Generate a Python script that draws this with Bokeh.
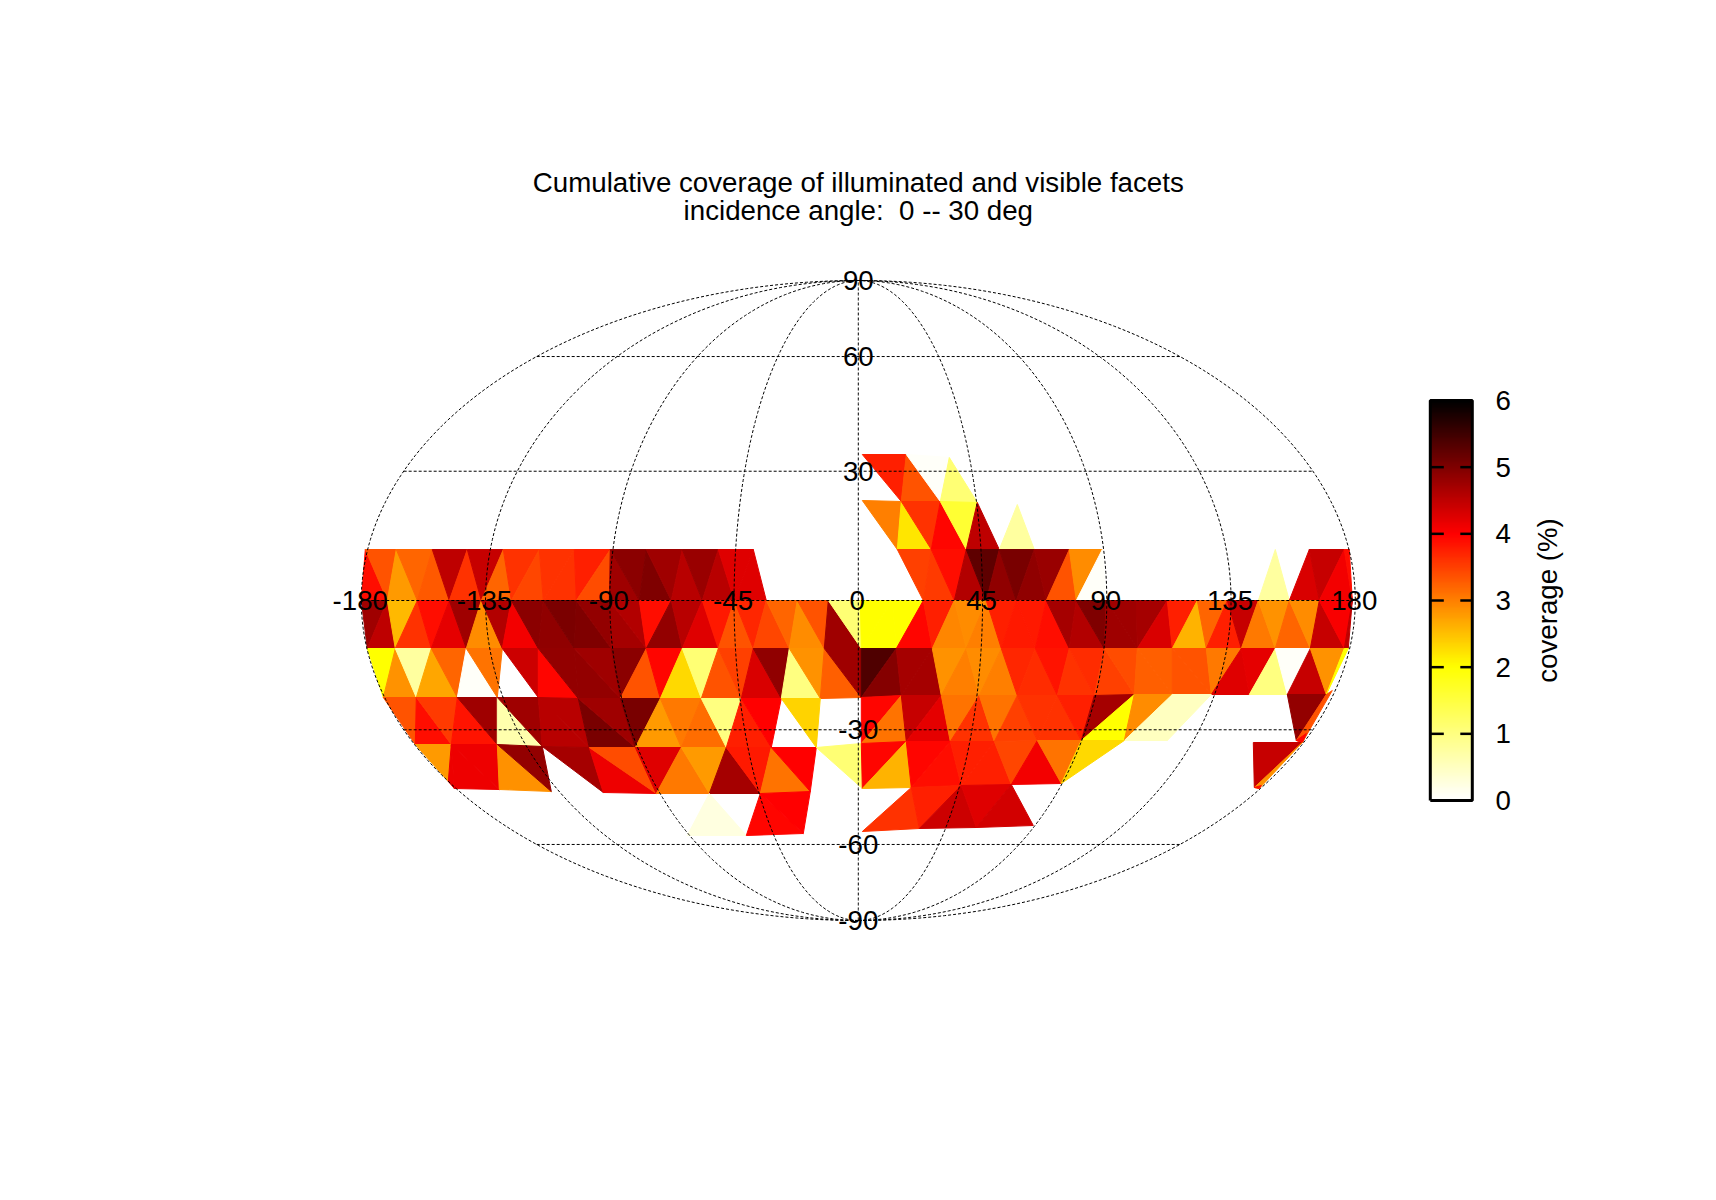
from bokeh.plotting import figure
from bokeh.models import Range1d, LinearColorMapper, ColumnDataSource
from bokeh.core.properties import value
from bokeh.embed import file_html
from bokeh.resources import INLINE
import numpy as np

# Mesh vertices on the projected map plane (semi-axes 497 x 320), one pair of lists per row
P_X = [4, 48, 91]
P_Y = [146, 146, 143]
Q_X = [4, 43, 82, 119, 159]
Q_Y = [100, 99, 99, 98, 96]
A_X = [-493, -462, -426, -391, -355, -319, -284, -248, -212, -176, -140, -105,
       39, 73, 108, 141, 176, 211, 244, 417, 451, 486, 491]
A_Y = [51] * 23
B_X = [-497, -471, -441, -409, -377, -347, -315, -282, -249, -219, -187, -156, -124, -92, -61, -30,
       2, 34, 65, 96, 128, 158, 188, 218, 248, 278, 309, 339, 369, 400, 431, 461, 494]
B_Y = [0] * 33
C_X = [-491, -463, -427, -392, -356, -320, -284, -247, -212, -176, -140, -105, -69, -34,
       3, 38, 74, 108, 143, 177, 211, 246, 279, 314, 348, 383, 417, 452, 486, 490]
C_Y = [-48] * 30
D_X = [-475, -442, -401, -361, -320, -280, -238, -198, -157, -117, -77, -38,
       3, 43, 83, 121, 159, 199, 236, 276, 314, 353, 391, 429, 468, 474]
D_Y = [-97, -97, -97, -97, -97, -98, -98, -98, -98, -98, -98, -98,
       -97, -95, -95, -95, -95, -95, -95, -94, -94, -94, -94, -94, -94, -90]
E_X = [-443, -407, -361, -316, -269, -223, -177, -132, -87, -42,
       3, 48, 92, 136, 179, 223, 266, 309, 395, 438, 444]
E_Y = [-144, -144, -144, -146, -147, -147, -147, -147, -147, -147,
       -143, -141, -141, -141, -140, -140, -140, -140, -142, -140, -142]
F_X = [-404, -359, -307, -255, -202, -149, -98, -48, 4, 53, 103, 153, 203, 396, 401]
F_Y = [-188, -189, -191, -192, -193, -193, -193, -191, -188, -187, -185, -184, -183, -187, -188]
G_X = [-171, -112, -55, 4, 61, 118, 175]
G_Y = [-235, -235, -233, -231, -228, -227, -225]
H_X = [-410, 448, 403]
H_Y = [-181, -133, -185]

# Facets: three vertices and the coverage (%)
FACETS = [
    ("P0 P1 Q1", 3.75), ("P1 Q1 Q2", 3.35), ("P1 P2 Q2", 0.05), ("P2 Q2 Q3", 1.1),
    ("Q0 Q1 A12", 3.0), ("Q1 A12 A13", 2.2), ("Q1 Q2 A13", 3.6), ("Q2 A13 A14", 3.95),
    ("Q2 Q3 A14", 1.6), ("Q3 A14 A15", 4.5), ("Q4 A15 A16", 0.75),
    ("A0 B0 B1", 3.9), ("A0 A1 B1", 3.35), ("A1 B1 B2", 2.8), ("A1 A2 B2", 3.2),
    ("A2 B2 B3", 3.3), ("A2 A3 B3", 4.5), ("A3 B3 B4", 3.6), ("A3 A4 B4", 4.45),
    ("A4 B4 B5", 3.2), ("A4 A5 B5", 3.6), ("A5 B5 B6", 3.45), ("A5 A6 B6", 3.6),
    ("A6 B6 B7", 3.6), ("A6 A7 B7", 3.75), ("A7 B7 B8", 3.4), ("A7 B8 B9", 4.75),
    ("A7 A8 B9", 4.9), ("A8 B9 B10", 5.0), ("A8 A9 B10", 4.75), ("A9 B10 B11", 4.55),
    ("A9 A10 B11", 4.8), ("A10 B11 B12", 4.55), ("A10 A11 B12", 4.25), ("A11 B12 B13", 4.25),
    ("A12 A13 B18", 3.5), ("A13 B18 B19", 3.55), ("A13 A14 B19", 3.9), ("A14 B19 B20", 4.6),
    ("A14 A15 B20", 5.25), ("A15 B20 B21", 4.87), ("A15 A16 B21", 5.05), ("A16 B21 B22", 4.87),
    ("A16 A17 B22", 4.8), ("A17 B22 B23", 3.35), ("A17 A18 B23", 2.9), ("A18 B23 B24", 0.05),
    ("A19 B29 B30", 0.75), ("A20 B30 B31", 4.3), ("A20 A21 B31", 4.45), ("A21 B31 B32", 4.1),
    ("A21 A22 B32", 3.9),
    ("B0 B1 C0", 4.75), ("B1 C0 C1", 4.5), ("B1 B2 C1", 2.55), ("B2 C1 C2", 3.6),
    ("B2 B3 C2", 3.9), ("B3 C2 C3", 4.2), ("B3 B4 C3", 4.75), ("B4 C3 C4", 2.9),
    ("B4 B5 C4", 4.6), ("B5 C4 C5", 4.1), ("B5 B6 C5", 4.9), ("B6 C5 C6", 4.87),
    ("B6 B7 C6", 5.03), ("B7 C6 C7", 5.0), ("B7 B8 C7", 4.85), ("B8 C7 C8", 4.7),
    ("B8 B9 C8", 4.6), ("B9 B10 C8", 3.9), ("B10 C8 C9", 4.85), ("B10 B11 C9", 4.55),
    ("B11 C9 C10", 4.25), ("B11 B12 C10", 3.8), ("B12 C10 C11", 3.35), ("B12 B13 C11", 3.7),
    ("B13 C11 C12", 3.45), ("B13 B14 C12", 3.2), ("B14 C12 C13", 2.9), ("B14 B15 C13", 3.35),
    ("B15 C13 C14", 4.75), ("B15 B16 C14", 1.1), ("B16 B17 C14", 2.0), ("B17 C14 C15", 2.0),
    ("B17 B18 C15", 2.0), ("B18 C15 C16", 3.95), ("B18 B19 C16", 3.75), ("B19 C16 C17", 2.95),
    ("B19 B20 C17", 2.9), ("B20 C17 C18", 3.0), ("B20 B21 C18", 3.75), ("B21 C18 C19", 3.8),
    ("B21 B22 C19", 3.8), ("B22 C19 C20", 3.9), ("B22 B23 C20", 4.7), ("B23 C20 C21", 4.6),
    ("B23 B24 C21", 5.0), ("B24 C21 C22", 4.75), ("B24 B25 C22", 4.75), ("B25 B26 C22", 4.7),
    ("B26 C22 C23", 4.3), ("B26 B27 C23", 3.75), ("B27 C23 C24", 2.6), ("B27 B28 C24", 3.2),
    ("B28 C24 C25", 3.75), ("B28 B29 C25", 4.45), ("B29 C25 C26", 3.05), ("B29 B30 C26", 2.85),
    ("B30 C26 C27", 3.2), ("B30 B31 C27", 2.9), ("B31 C27 C28", 4.45), ("B31 B32 C28", 4.05),
    ("B32 C28 C29", 4.5),
    ("C0 C1 D0", 2.0), ("C1 D0 D1", 2.85), ("C1 C2 D1", 0.75), ("C2 D1 D2", 2.7),
    ("C2 C3 D2", 3.2), ("C3 D2 D3", 0.05), ("C3 C4 D3", 3.1), ("C4 C5 D4", 4.4),
    ("C5 D4 D5", 3.95), ("C5 C6 D5", 4.85), ("C6 D5 D6", 4.85), ("C6 C7 D6", 4.75),
    ("C7 C8 D6", 4.9), ("C8 D6 D7", 3.35), ("C8 C9 D7", 3.95), ("C9 D7 D8", 2.3),
    ("C9 C10 D8", 1.1), ("C10 D8 D9", 3.35), ("C10 C11 D9", 3.5), ("C11 D9 D10", 4.3),
    ("C11 C12 D10", 4.87), ("C12 D10 D11", 1.0), ("C12 C13 D11", 2.85), ("C13 D11 D12", 3.25),
    ("C13 C14 D12", 4.75), ("C14 C15 D12", 5.37), ("C15 D12 D13", 4.95), ("C15 C16 D13", 4.7),
    ("C16 D13 D14", 4.7), ("C16 C17 D14", 2.85), ("C17 D14 D15", 3.0), ("C17 C18 D15", 2.9),
    ("C18 D15 D16", 3.0), ("C18 C19 D16", 3.7), ("C19 D16 D17", 3.65), ("C19 C20 D17", 3.85),
    ("C20 D17 D18", 3.6), ("C20 C21 D18", 3.65), ("C21 D18 D19", 3.5), ("C21 C22 D19", 3.4),
    ("C22 D19 D20", 3.25), ("C22 C23 D20", 3.25), ("C23 D20 D21", 3.35), ("C23 C24 D21", 3.35),
    ("C24 C25 D21", 3.05), ("C25 D21 D22", 4.25), ("C25 C26 D22", 4.2), ("C26 D22 D23", 1.0),
    ("C26 C27 D23", 0.05), ("C27 D23 D24", 4.45), ("C27 C28 D24", 2.85), ("C28 C29 D24", 2.0),
    ("D0 D1 E0", 3.35), ("D1 E0 E1", 3.9), ("D1 D2 E1", 3.55), ("D2 E1 E2", 3.85),
    ("D2 D3 E2", 4.75), ("D3 E2 E3", 0.65), ("D3 D4 E3", 4.75), ("D4 E3 E4", 4.55),
    ("D4 D5 E4", 4.55), ("D5 E4 E5", 5.05), ("D5 D6 E5", 4.75), ("D6 D7 E5", 5.05),
    ("D7 E5 E6", 2.8), ("D7 D8 E6", 3.05), ("D8 E6 E7", 3.15), ("D8 D9 E7", 1.0),
    ("D9 E7 E8", 3.75), ("D9 D10 E8", 4.0), ("D10 D11 E9", 2.35), ("D12 D13 E10", 3.95),
    ("D13 E10 E11", 3.1), ("D13 D14 E11", 4.45), ("D14 E11 E12", 4.2), ("D14 D15 E12", 3.1),
    ("D15 E12 E13", 3.6), ("D15 D16 E13", 3.1), ("D16 E13 E14", 3.5), ("D16 D17 E14", 3.6),
    ("D17 E14 E15", 3.6), ("D17 D18 E15", 3.75), ("D18 D19 E15", 4.7), ("D19 E15 E16", 2.0),
    ("D19 D20 E16", 2.9), ("D20 E16 E17", 0.5), ("D20 D21 E17", 0.5), ("D23 D24 E19", 4.85),
    ("D24 D25 E20", 3.35), ("D24 E19 E20", 3.35), ("E19 E20 H1", 3.95),
    ("E0 E1 H0", 2.8), ("E1 H0 F0", 4.13), ("E1 E2 F1", 4.13), ("E1 F0 F1", 4.13),
    ("E2 F1 F2", 2.87), ("E2 E3 F2", 4.85), ("E3 E4 F3", 4.7), ("E4 F3 F4", 4.13),
    ("E4 E5 F4", 3.4), ("E5 E6 F4", 4.25), ("E6 F4 F5", 3.05), ("E6 E7 F5", 2.8),
    ("E7 F5 F6", 4.7), ("E7 E8 F6", 3.8), ("E8 F6 F7", 3.1), ("E8 E9 F7", 4.0),
    ("E9 E10 F8", 1.1), ("E10 E11 F8", 3.95), ("E11 F8 F9", 2.6), ("E11 E12 F9", 3.95),
    ("E12 F9 F10", 3.9), ("E12 E13 F10", 3.75), ("E13 F10 F11", 3.75), ("E13 E14 F11", 3.45),
    ("E14 F11 F12", 4.1), ("E14 E15 F12", 3.1), ("E15 E16 F12", 2.3), ("E18 E20 F13", 4.45),
    ("F13 E20 F14", 2.85), ("F13 F14 H2", 3.9),
    ("F5 G0 G1", 0.25), ("F6 G1 G2", 3.95), ("F6 F7 G2", 4.0),
    ("F9 G3 G4", 3.6), ("F9 F10 G4", 3.75), ("F10 G4 G5", 4.4), ("F10 F11 G5", 4.25),
    ("F11 G5 G6", 4.35),
]

LON_TICKS = [-180, -135, -90, -45, 0, 45, 90, 135, 180]
LAT_TICKS = [-90, -60, -30, 0, 30, 60, 90]
BAR_TICKS = [0, 1, 2, 3, 4, 5, 6]
TITLE_LINES = ["Cumulative coverage of illuminated and visible facets", "incidence angle:\u00a0 0 -- 30 deg"]
BAR_LABEL = "coverage (%)"

SEMI_X, SEMI_Y = 497.0, 320.0
FONT = value("Liberation Sans")
FS = "27.7px"

ROWS = dict(P=(P_X, P_Y), Q=(Q_X, Q_Y), A=(A_X, A_Y), B=(B_X, B_Y), C=(C_X, C_Y), D=(D_X, D_Y),
            E=(E_X, E_Y), F=(F_X, F_Y), G=(G_X, G_Y), H=(H_X, H_Y))


def vertex(tok):
    xs, ys = ROWS[tok[0]]
    i = int(tok[1:])
    return xs[i], ys[i]


def mollweide_theta(lat):
    target = np.pi * np.sin(np.radians(lat))
    lo, hi = -np.pi / 2, np.pi / 2
    for _ in range(60):
        mid = (lo + hi) / 2
        if 2 * mid + np.sin(2 * mid) < target:
            lo = mid
        else:
            hi = mid
    return (lo + hi) / 2


def hot_palette(n=512):
    out = []
    for t in np.linspace(0, 1, n):
        r = min(1.0, 3 - 3 * t)
        g = min(1.0, max(0.0, 2 - 3 * t))
        b = max(0.0, 1 - 3 * t)
        out.append("#%02x%02x%02x" % (round(r * 255), round(g * 255), round(b * 255)))
    return out


W, H = 1700, 1184
ox, oy = 857.8, 600.0
p = figure(width=W, height=H, output_backend="svg", toolbar_location=None,
           x_range=Range1d(-ox, W - ox), y_range=Range1d(-(H - oy), oy),
           min_border=0, min_border_left=0, min_border_right=0, min_border_top=0, min_border_bottom=0)
p.axis.visible = False
p.grid.visible = False
p.outline_line_color = None
p.background_fill_color = "white"
p.border_fill_color = "white"
p.extra_y_ranges["bar"] = Range1d((800 - H) / 66.667, 800 / 66.667)

mapper = LinearColorMapper(palette=hot_palette(), low=0, high=6)
xs, ys, vals = [], [], []
for names, v in FACETS:
    pts = [vertex(t) for t in names.split()]
    xs.append([q[0] for q in pts])
    ys.append([q[1] for q in pts])
    vals.append(v)
src = ColumnDataSource(dict(xs=xs, ys=ys, v=vals))
p.patches("xs", "ys", source=src,
          fill_color={"field": "v", "transform": mapper},
          line_color={"field": "v", "transform": mapper}, line_width=1)

# graticule
th = np.linspace(-np.pi / 2, np.pi / 2, 181)
for lon in LON_TICKS:
    p.line(SEMI_X * lon / 180 * np.cos(th), SEMI_Y * np.sin(th), line_color="black", line_width=1, line_dash="3 2")
for lat in LAT_TICKS[1:-1]:
    t = mollweide_theta(lat)
    p.line([-SEMI_X * np.cos(t), SEMI_X * np.cos(t)], [SEMI_Y * np.sin(t)] * 2, line_color="black", line_width=1, line_dash="3 2")

# graticule labels
p.text([SEMI_X * lon / 180 - 1 for lon in LON_TICKS], [0] * len(LON_TICKS), text=[str(l) for l in LON_TICKS],
       text_font=FONT, text_font_size=FS, text_color="black", text_align="center", text_baseline="middle")
lat_lab = [l for l in LAT_TICKS if l != 0]
p.text([0] * len(lat_lab), [SEMI_Y * np.sin(mollweide_theta(l)) for l in lat_lab], text=[str(l) for l in lat_lab],
       text_font=FONT, text_font_size=FS, text_color="black", text_align="center", text_baseline="middle")

# title
p.text([0, 0], [418.5, 390], text=TITLE_LINES, text_font=FONT, text_font_size=FS, text_color="black",
       text_align="center", text_baseline="middle")

# colour bar
bar_l, bar_r = 572, 614
ramp = np.linspace(0, 6, 480).reshape(-1, 1)
p.image(image=[ramp], x=bar_l, y=0, dw=bar_r - bar_l, dh=6, color_mapper=mapper, y_range_name="bar")
p.multi_line([[bar_l, bar_l + 13.5]] * 5 + [[bar_r - 12, bar_r]] * 5,
             [[k, k] for k in BAR_TICKS[1:-1]] * 2, y_range_name="bar", line_color="black", line_width=2.5)
p.line([bar_l, bar_r, bar_r, bar_l, bar_l], [0, 0, 6, 6, 0], y_range_name="bar", line_color="black", line_width=3)
p.text([645] * 7, BAR_TICKS, text=[str(k) for k in BAR_TICKS], y_range_name="bar", text_font=FONT,
       text_font_size=FS, text_color="black", text_align="center", text_baseline="middle")
p.text([689], [3], text=[BAR_LABEL], y_range_name="bar", angle=np.pi / 2, text_font=FONT, text_font_size=FS,
       text_color="black", text_align="center", text_baseline="middle")

open("out.html", "w").write(file_html(p, INLINE))
